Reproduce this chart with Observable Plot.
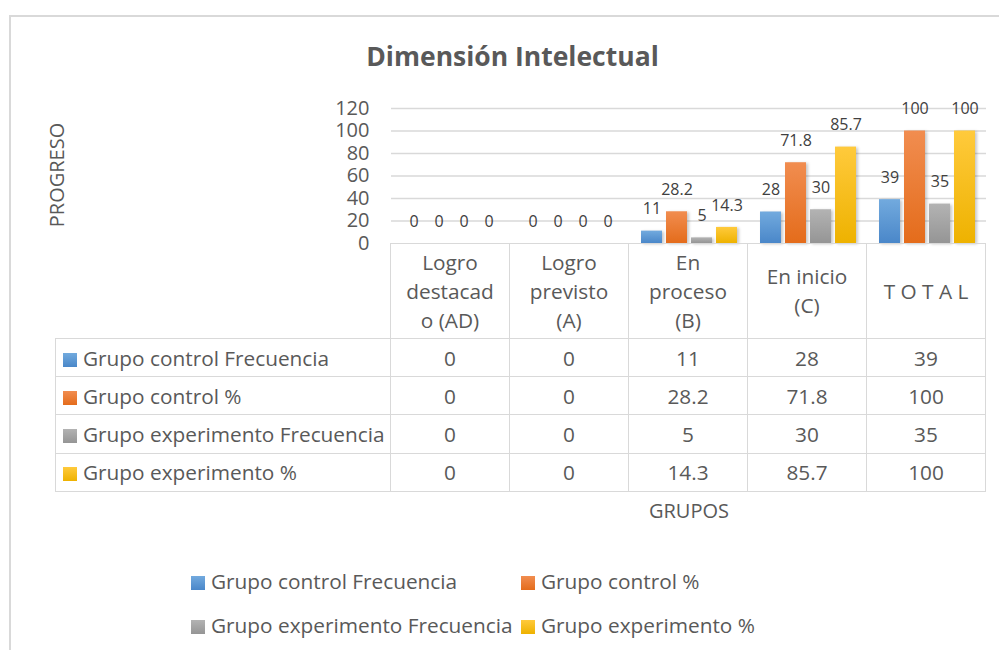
<!DOCTYPE html>
<html><head><meta charset="utf-8">
<script src="https://cdn.jsdelivr.net/npm/d3@7"></script>
<script src="https://cdn.jsdelivr.net/npm/@observablehq/plot@0.6"></script>
<style>
body{margin:0;background:#fff;font-family:"Open Sans",sans-serif;color:#595959}
#wrap{position:relative;width:999px;height:650px;overflow:hidden;background:#fff}
#frame{position:absolute;left:9px;top:15px;width:1100px;height:800px;border-left:2px solid #d9d9d9;border-top:2px solid #d9d9d9;box-sizing:border-box}
#title{position:absolute;left:262px;width:501px;top:39px;text-align:center;font-size:26.5px;font-weight:700;line-height:34px;color:#595959}
#ylab{position:absolute;left:-3px;top:162px;width:120px;text-align:center;font-size:20px;line-height:26px;transform:rotate(-90deg)}
#xlab{position:absolute;left:589px;width:200px;top:497px;text-align:center;font-size:20px;line-height:28px}
#chart{position:absolute;left:0;top:0}
#chart svg{overflow:visible}
g[aria-label="bar"] rect{filter:drop-shadow(2px 1px 1.5px rgba(0,0,0,0.22))}
table{position:absolute;border-collapse:collapse;table-layout:fixed;font-size:20.8px;color:#595959}
td{border:1.5px solid #d9d9d9;padding:0;text-align:center;white-space:nowrap;overflow:visible}
td.lab{text-align:left;padding-left:7px}
.sw{display:inline-block;width:14px;height:14px;margin-right:6px;vertical-align:-1px}
.hd{line-height:29px}
.leg{position:absolute;font-size:20.8px;line-height:26px;white-space:nowrap}
.leg .sw{margin-right:6px}
</style>
</head><body>
<div id="wrap">
  <div id="frame"></div>
  <div id="title">Dimensión Intelectual</div>
  <div id="ylab">PROGRESO</div>
  <div id="chart"></div>
  <div id="xlab">GRUPOS</div>
</div>
<script>
const categories = ["Logro destacado (AD)", "Logro previsto (A)", "En proceso (B)", "En inicio (C)", "T O T A L"];
const headerLines = [["Logro", "destacad", "o (AD)"], ["Logro", "previsto", "(A)"], ["En", "proceso", "(B)"], ["En inicio", "(C)"], ["T O T A L"]];
const series = ["Grupo control Frecuencia", "Grupo control %", "Grupo experimento Frecuencia", "Grupo experimento %"];
const controlFreq = [0, 0, 11, 28, 39];
const controlPct = [0, 0, 28.2, 71.8, 100];
const experFreq = [0, 0, 5, 30, 35];
const experPct = [0, 0, 14.3, 85.7, 100];
const yTicks = [0, 20, 40, 60, 80, 100, 120];
const gradTop = ["#72aade", "#f18d50", "#b3b3b3", "#ffca3c"];
const gradBottom = ["#4a87c9", "#e46c1b", "#959595", "#eeb200"];
const gradIds = ["gBlue", "gOrange", "gGray", "gGold"];

const valuesBySeries = [controlFreq, controlPct, experFreq, experPct];
const data = [];
categories.forEach((c, i) => series.forEach((s, j) => data.push({cat: c, series: s, value: valuesBySeries[j][i]})));

const defsMark = () => {
  const defs = d3.create("svg:defs");
  gradIds.forEach((id, i) => {
    const g = defs.append("linearGradient").attr("id", id).attr("x1", 0).attr("y1", 0).attr("x2", 0).attr("y2", 1);
    g.append("stop").attr("offset", "0%").attr("stop-color", gradTop[i]);
    g.append("stop").attr("offset", "100%").attr("stop-color", gradBottom[i]);
  });
  return defs.node();
};

const chart = Plot.plot({
  width: 999, height: 250,
  marginLeft: 390, marginRight: 12, marginTop: 108, marginBottom: 7,
  style: {fontFamily: "Open Sans", fontSize: "20px", color: "#595959", background: "transparent"},
  fx: {domain: categories, padding: 0, axis: null, label: null},
  x: {domain: series, paddingInner: 0.165, paddingOuter: 0.38, axis: null, label: null},
  y: {domain: [0, 120], ticks: yTicks, tickSize: 0, tickPadding: 22, label: null},
  color: {type: "ordinal", domain: series, range: gradIds.map(id => `url(#${id})`)},
  marks: [
    defsMark,
    Plot.ruleY(yTicks.filter(d => d > 0), {stroke: "#d9d9d9", strokeWidth: 1.5}),
    Plot.barY(data, {fx: "cat", x: "series", y: "value", fill: "series"}),
    Plot.text(data, {fx: "cat", x: "series", y: "value", text: d => String(d.value), dy: -22, fontSize: 16, fill: "#404040"})
  ]
});
document.getElementById("chart").appendChild(chart);

// table aligned to the fx scale
const fx = chart.scale("fx");
const colW = fx.bandwidth;
const left0 = fx.range[0];
const tableLeft = 55;
const wrap = document.getElementById("wrap");
const table = document.createElement("table");
table.style.left = tableLeft + "px";
table.style.top = "243px";
table.style.width = (left0 - tableLeft + colW * categories.length) + "px";
const cg = document.createElement("colgroup");
const c0 = document.createElement("col"); c0.style.width = (left0 - tableLeft) + "px"; cg.appendChild(c0);
categories.forEach(() => { const c = document.createElement("col"); c.style.width = colW + "px"; cg.appendChild(c); });
table.appendChild(cg);
const hr = document.createElement("tr");
hr.style.height = "95px";
const h0 = document.createElement("td");
h0.style.borderTop = "none"; h0.style.borderLeft = "none";
hr.appendChild(h0);
headerLines.forEach(lines => {
  const td = document.createElement("td");
  td.className = "hd";
  td.innerHTML = lines.join("<br>");
  hr.appendChild(td);
});
table.appendChild(hr);
series.forEach((s, j) => {
  const tr = document.createElement("tr");
  tr.style.height = "38.2px";
  const lab = document.createElement("td");
  lab.className = "lab";
  lab.innerHTML = `<span class="sw" style="background:linear-gradient(${gradTop[j]},${gradBottom[j]})"></span>${s}`;
  tr.appendChild(lab);
  valuesBySeries[j].forEach(v => {
    const td = document.createElement("td");
    td.textContent = String(v);
    tr.appendChild(td);
  });
  table.appendChild(tr);
});
wrap.appendChild(table);

// legend
const legPos = [[191, 568], [521, 568], [191, 612], [521, 612]];
series.forEach((s, j) => {
  const d = document.createElement("div");
  d.className = "leg";
  d.style.left = legPos[j][0] + "px";
  d.style.top = legPos[j][1] + "px";
  d.innerHTML = `<span class="sw" style="background:linear-gradient(${gradTop[j]},${gradBottom[j]})"></span>${s}`;
  wrap.appendChild(d);
});
</script>
</body></html>
